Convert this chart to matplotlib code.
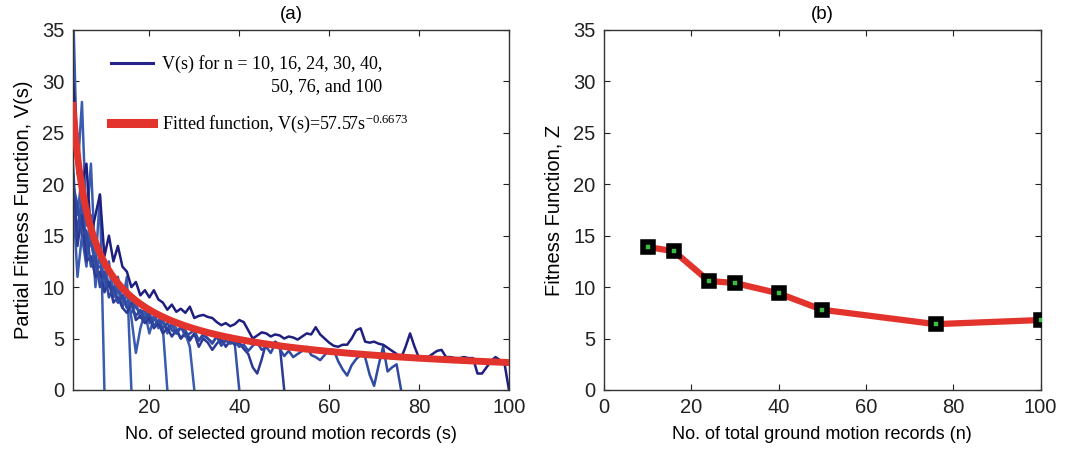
import numpy as np
import matplotlib
matplotlib.use("Agg")
import matplotlib.pyplot as plt
from matplotlib.lines import Line2D

# ---------------- data ----------------
n_values = [10, 16, 24, 30, 40, 50, 76, 100]
s_start = 3

v_n10 = [38, 21, 28, 16, 22, 12, 19, 0]
v_n16 = [19, 11, 15, 12, 17, 10, 14, 10, 12.5, 9, 11, 8.5, 11, 0]
v_n24 = [20, 17, 21, 13, 16, 11, 13, 10, 12, 9,
         10, 8, 9.5, 7, 3.6, 6, 7.5, 5.5, 7, 6.5,
         6, 0]
v_n30 = [18, 15, 19, 14, 15, 12, 11, 12.5, 10, 11,
         8.5, 9, 8, 7.5, 8.5, 7, 7.8, 6.5, 7.2, 6,
         7, 5.5, 6.5, 6, 5, 5.5, 4.2, 0]
v_n40 = [17, 16, 18, 13, 14.5, 12, 12, 11, 10.5, 10,
         9.5, 9, 8.5, 8.8, 8, 7.5, 7.8, 7, 6.8, 7.2,
         6.5, 6, 6.3, 5.5, 6, 5.8, 5, 5.4, 4.8, 5.5,
         5, 4.5, 5.2, 4.6, 4.8, 5.3, 4.5, 0]
v_n50 = [22, 14, 17, 12.5, 13, 11, 11.5, 9.5, 10.5, 8.5,
         9, 8, 7.5, 8.5, 6.8, 7.2, 6.5, 7, 6, 6.5,
         5.5, 6, 5.2, 5.8, 5, 5.6, 4.8, 5.5, 4.2, 5,
         4.6, 3.9, 4.5, 5, 4.2, 4.8, 4.4, 4.6, 4, 3.5,
         2.2, 1.6, 3, 4.6, 4.2, 4.7, 4.4, 0]
v_n76 = [20, 18, 15, 15.5, 12, 13, 10, 11.5, 9, 10,
         8.5, 9.2, 8, 8.3, 7.2, 7.8, 6.8, 7.5, 6.2, 6.8,
         6, 6.5, 5.8, 5.5, 6.2, 5.2, 5.5, 5.8, 4.8, 5.3,
         5, 4.6, 5.2, 4.3, 4.8, 4.5, 4.7, 4.2, 4.4, 3.8,
         4.3, 4.6, 3.9, 4.2, 3.6, 4.5, 4, 3.3, 3.8, 3.2,
         3.5, 3.8, 4.2, 3.4, 3.2, 2.9, 3.4, 3.9, 3.9, 2.8,
         2, 1.4, 2.4, 3, 3.4, 3.2, 1.5, 0.4, 2.4, 4.2,
         1.8, 2.2, 2.5, 0]
v_n100 = [30, 24, 20, 22, 15, 17, 19, 13, 15, 12.5,
          14, 12, 11.5, 10, 10.5, 9.2, 9.7, 9, 9.7, 8.8,
          8.5, 7.8, 8.3, 7.6, 7.9, 7.5, 8.1, 7, 7.2, 7.3,
          7.1, 7, 6.6, 6.3, 6.5, 6.2, 6.4, 6.8, 6.6, 5.8,
          5, 5.3, 5.6, 5.5, 5.2, 5.4, 5.3, 5, 5.2, 5.1,
          4.9, 5.2, 5.5, 5.4, 6.1, 5.4, 5, 4.6, 4.3, 4.2,
          4.4, 4.4, 5, 5.8, 6, 4.7, 4.6, 4.7, 4.5, 4.4,
          4.1, 3.8, 3.5, 3.1, 4.2, 5.5, 4.2, 3.1, 3.2, 3.2,
          3.5, 3.8, 3.9, 3.2, 3.2, 3.1, 3.1, 3.2, 3.1, 3.1,
          1.6, 1.6, 2.2, 2.8, 3.2, 2.9, 2.6, 0]

v_series = [v_n10, v_n16, v_n24, v_n30, v_n40, v_n50, v_n76, v_n100]
line_colors = ['#3a5cb0', '#3a5cb0', '#3a5cb0', '#3a5cb0',
               '#3552a8', '#2b3a95', '#2f4aa0', '#1f1f80']

fit_a = 57.57
fit_b = -0.6673

n_total = [10, 16, 24, 30, 40, 50, 76, 100]
z_values = [13.9, 13.5, 10.6, 10.4, 9.4, 7.8, 6.4, 6.8]

legend_line1 = 'V(s) for n = 10, 16, 24, 30, 40,'
legend_line2 = '50, 76, and 100'
legend_fit = 'Fitted function, V(s)=57.57s$^{-0.6673}$'

# ---------------- figure ----------------
plt.rcParams['font.family'] = ['Liberation Sans', 'DejaVu Sans']
plt.rcParams['mathtext.fontset'] = 'custom'
plt.rcParams['mathtext.rm'] = 'Liberation Serif'
plt.rcParams['mathtext.it'] = 'Liberation Serif:italic'
plt.rcParams['mathtext.default'] = 'rm'
fig = plt.figure(figsize=(10.65, 4.54), dpi=100)
ax1 = fig.add_axes([0.0685, 0.141, 0.4094, 0.793])
ax2 = fig.add_axes([0.567, 0.141, 0.410, 0.793])

red = '#e2332c'
for vals, c in zip(v_series, line_colors):
    s = np.arange(s_start, s_start + len(vals))
    ax1.plot(s, vals, color=c, lw=1.8, zorder=2)

s_fit = np.linspace(3, 100, 400)
ax1.plot(s_fit, fit_a * s_fit ** fit_b, color=red, lw=5, zorder=3)

ax1.set_xlim(3, 100)
ax1.set_ylim(0, 35)
ax1.set_xticks([20, 40, 60, 80, 100])
ax1.set_yticks(range(0, 36, 5))
ax1.set_xlabel('No. of selected ground motion records (s)', fontsize=13, labelpad=6)
ax1.set_ylabel('Partial Fitness Function, V(s)', fontsize=14.5, labelpad=7)
ax1.set_title('(a)', fontsize=13.5, pad=8)

handles = [Line2D([], [], color='#23238a', lw=2.2),
           Line2D([], [], color=red, lw=6.5)]
labels = [legend_line1, legend_fit]
leg = ax1.legend(handles, labels, loc='upper left', bbox_to_anchor=(0.05, 0.975),
                 frameon=False, handlelength=2.3, handletextpad=0.5,
                 labelspacing=2.2,
                 prop={'family': 'Liberation Serif', 'size': 13})

ax2.plot(n_total, z_values, color=red, lw=4.5, zorder=2)
ax2.plot(n_total, z_values, ls='none', marker='s', ms=7.5, mew=4,
         mec='black', mfc='#3dbb45', zorder=3)
ax2.set_xlim(0, 100)
ax2.set_ylim(0, 35)
ax2.set_xticks(range(0, 101, 20))
ax2.set_yticks(range(0, 36, 5))
ax2.set_xlabel('No. of total ground motion records (n)', fontsize=13, labelpad=6)
ax2.set_ylabel('Fitness Function, Z', fontsize=14.5, labelpad=7)
ax2.set_title('(b)', fontsize=13.5, pad=8)

for ax in (ax1, ax2):
    ax.tick_params(direction='in', top=True, right=True, labelsize=14.5, length=4,
                   width=0.8, colors='#222222', pad=6)
    for sp in ax.spines.values():
        sp.set_linewidth(1.0)
        sp.set_color('#333333')

# continuation line of the first legend label, right-aligned under it
fig.canvas.draw()
renderer = fig.canvas.get_renderer()
bb = leg.get_texts()[0].get_window_extent(renderer)
inv = ax1.transAxes.inverted()
(x_r, y_b) = inv.transform((bb.x1, bb.y0))
(_, y_t) = inv.transform((bb.x1, bb.y1))
ax1.text(x_r, y_b - (y_t - y_b) * 0.3, legend_line2, transform=ax1.transAxes,
         ha='right', va='top', family='Liberation Serif', fontsize=13)

fig.savefig('out.png', dpi=100)
